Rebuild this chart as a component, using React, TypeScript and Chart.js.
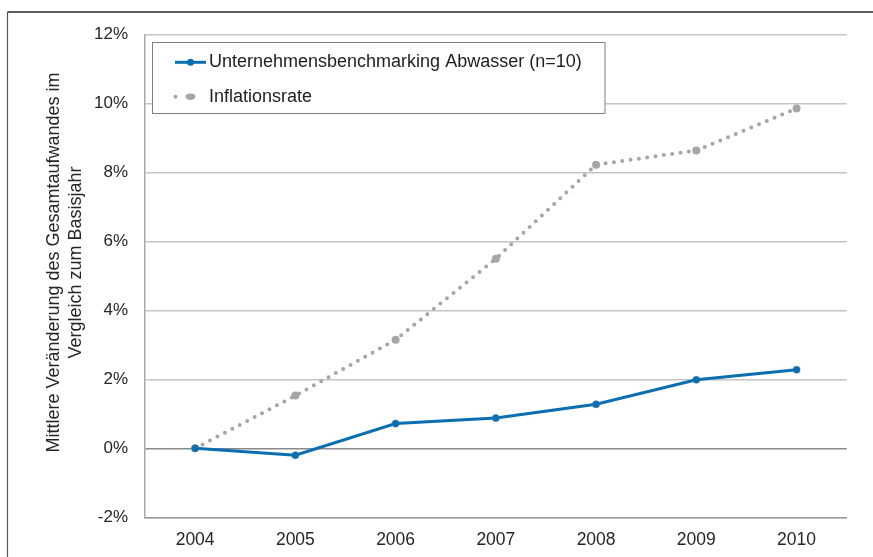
import React, { useEffect, useRef } from "react";
import { Chart, registerables } from "chart.js";

Chart.register(...registerables);

const years = ["2004", "2005", "2006", "2007", "2008", "2009", "2010"];
const benchmarkValues = [0, -0.2, 0.72, 0.88, 1.28, 1.99, 2.28];
const inflationValues = [0, 1.53, 3.15, 5.5, 8.23, 8.64, 9.86];
const seriesLabels = ["Unternehmensbenchmarking Abwasser (n=10)", "Inflationsrate"];
const yTitle = ["Mittlere Veränderung des Gesamtaufwandes im", "Vergleich zum Basisjahr"];

const BLUE = "#0a6fb0";
const GRAY = "#a6a6a6";
const FONT = "'Liberation Sans', Arial, sans-serif";

const framePlugin = {
  id: "frame",
  beforeDraw(chart: any) {
    const ctx = chart.ctx;
    ctx.save();
    ctx.strokeStyle = "#2a2a2a";
    ctx.lineWidth = 1.5;
    ctx.beginPath();
    ctx.moveTo(7.5, 12);
    ctx.lineTo(873, 12);
    ctx.stroke();
    ctx.strokeStyle = "#555";
    ctx.lineWidth = 1.2;
    ctx.beginPath();
    ctx.moveTo(7.5, 12);
    ctx.lineTo(7.5, 557);
    ctx.stroke();
    ctx.restore();
  },
};

const yTitlePlugin = {
  id: "yTitle",
  afterDraw(chart: any) {
    const ctx = chart.ctx;
    ctx.save();
    ctx.fillStyle = "#262626";
    ctx.font = `18px ${FONT}`;
    ctx.textAlign = "center";
    ctx.textBaseline = "middle";
    const cy = 262.5;
    const xs = [54, 76];
    yTitle.forEach((line, i) => {
      ctx.save();
      ctx.translate(xs[i], cy);
      ctx.rotate(-Math.PI / 2);
      ctx.fillText(line, 0, 0);
      ctx.restore();
    });
    ctx.restore();
  },
};

const legendPlugin = {
  id: "customLegend",
  afterDraw(chart: any) {
    const ctx = chart.ctx;
    const ds = chart.data.datasets;
    ctx.save();
    const bx = 152.5, by = 42.5, bw = 452.5, bh = 71;
    ctx.fillStyle = "#fff";
    ctx.fillRect(bx, by, bw, bh);
    ctx.strokeStyle = "#7f7f7f";
    ctx.lineWidth = 1;
    ctx.strokeRect(bx, by, bw, bh);

    const rows = [62.3, 96.7];
    ctx.strokeStyle = ds[0].borderColor;
    ctx.lineWidth = 3;
    ctx.beginPath();
    ctx.moveTo(175, rows[0]);
    ctx.lineTo(206, rows[0]);
    ctx.stroke();
    ctx.fillStyle = ds[0].pointBackgroundColor;
    ctx.beginPath();
    ctx.arc(190.5, rows[0], 3.5, 0, Math.PI * 2);
    ctx.fill();
    ctx.fillStyle = ds[1].pointBackgroundColor;
    ctx.beginPath();
    ctx.arc(175.5, rows[1], 2, 0, Math.PI * 2);
    ctx.fill();
    ctx.beginPath();
    ctx.ellipse(190.5, rows[1], 5, 3.3, 0, 0, Math.PI * 2);
    ctx.fill();

    ctx.fillStyle = "#222";
    ctx.font = `18px ${FONT}`;
    ctx.textBaseline = "middle";
    ctx.textAlign = "left";
    ctx.fillText(ds[0].label, 209, rows[0]);
    ctx.fillText(ds[1].label, 209, rows[1]);
    ctx.restore();
  },
};

export default function App() {
  const ref = useRef<HTMLCanvasElement>(null);
  useEffect(() => {
    if (!ref.current) return;
    const chart = new Chart(ref.current, {
      type: "line",
      data: {
        labels: years,
        datasets: [
          {
            label: seriesLabels[0],
            data: benchmarkValues,
            borderColor: BLUE,
            backgroundColor: BLUE,
            borderWidth: 3,
            pointRadius: 3.6,
            pointBackgroundColor: BLUE,
            pointBorderColor: "#3b7fae",
            pointBorderWidth: 0.5,
            tension: 0,
            order: 1,
          },
          {
            label: seriesLabels[1],
            data: inflationValues,
            borderColor: GRAY,
            backgroundColor: GRAY,
            borderWidth: 4,
            borderDash: [0, 8.4],
            borderCapStyle: "round",
            pointRadius: 4,
            pointBackgroundColor: GRAY,
            pointBorderColor: GRAY,
            pointBorderWidth: 0,
            tension: 0,
            order: 2,
          },
        ],
      },
      options: {
        animation: false,
        responsive: false,
        devicePixelRatio: 1,
        layout: { padding: { left: 0, right: 26.3, top: 34.7, bottom: 0 } },
        plugins: {
          legend: { display: false },
          tooltip: { enabled: false },
        },
        scales: {
          x: {
            type: "category",
            offset: true,
            grid: { display: false, drawTicks: false },
            border: { display: true, color: "#999", width: 1.5 },
            ticks: {
              color: "#262626",
              font: { family: FONT, size: 17.5 },
              padding: 12,
              maxRotation: 0,
            },
            afterFit: (s: any) => {
              s.height = 39.7;
            },
          },
          y: {
            min: -2,
            max: 12,
            grid: {
              drawTicks: false,
              color: (c: any) => (c.tick && c.tick.value === 0 ? "#8a8a8a" : "#c4c4c4"),
              lineWidth: 1.5,
            },
            border: { display: true, color: "#a8a8a8", width: 1.5 },
            ticks: {
              stepSize: 2,
              color: "#262626",
              font: { family: FONT, size: 17 },
              padding: 17,
              callback: (v: any) => `${v}%`,
            },
            title: { display: false },
            afterFit: (s: any) => {
              s.width = 145;
            },
          },
        },
      },
      plugins: [framePlugin, yTitlePlugin, legendPlugin],
    });
    return () => chart.destroy();
  }, []);
  return (
    <div style={{ position: "absolute", left: 0, top: 0, width: 873, height: 557, background: "#fff" }}>
      <canvas ref={ref} width={873} height={557} style={{ display: "block" }} />
    </div>
  );
}
